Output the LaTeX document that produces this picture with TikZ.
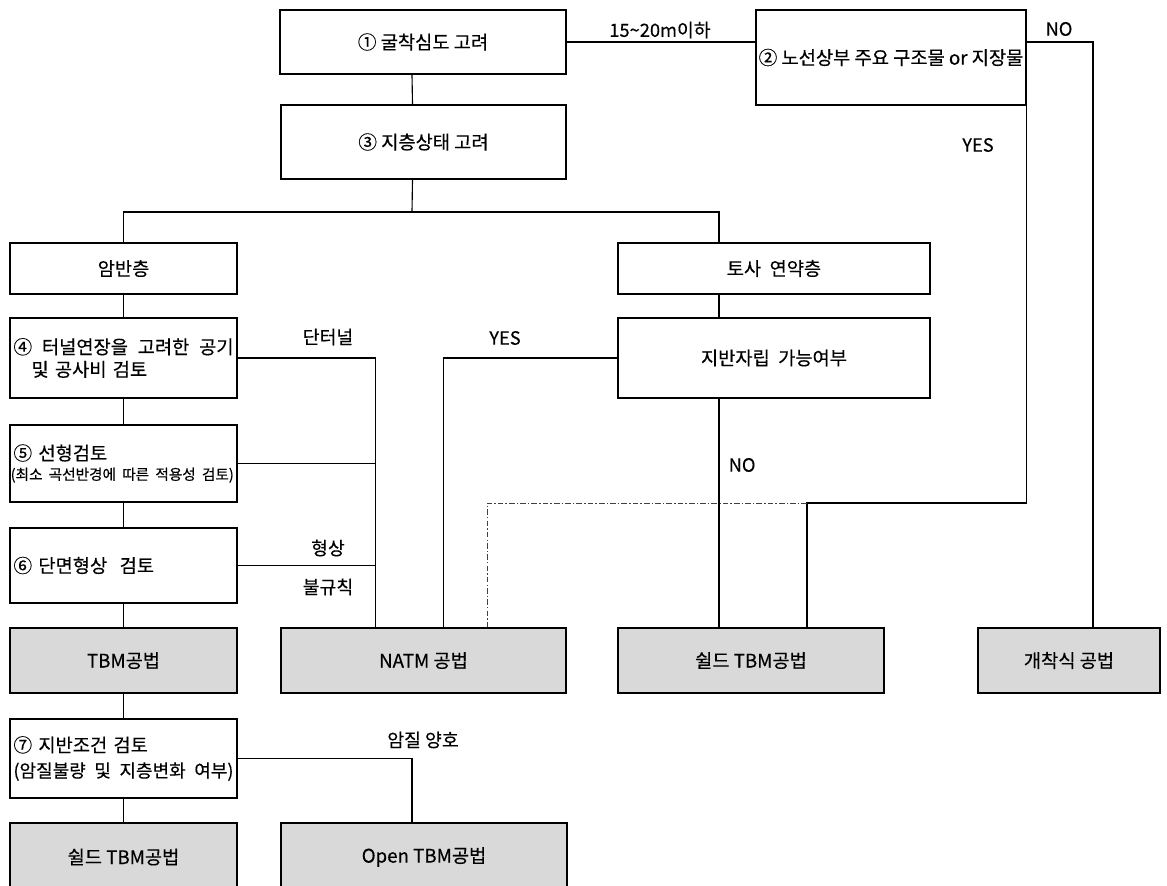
\documentclass[tikz,border=0pt]{standalone}
\usepackage{fontspec}
\setmainfont{Noto Sans CJK KR}[FakeBold=0.35]
\usetikzlibrary{positioning,calc}
\definecolor{hoesaek}{RGB}{217,217,217}
\tikzset{
  dangye/.style={draw,line width=0.8pt,fill=white,inner sep=2.5pt,align=center,
                 font=\fontsize{13.3}{21}\selectfont},
  jwadangye/.style={dangye,align=left,text width=5.5cm,minimum width=5.675cm},
  gongbeop/.style={dangye,fill=hoesaek},
  seon/.style={line width=0.8pt},
  jeomseon/.style={line width=0.6pt,draw=black!75,dash pattern=on 4pt off 1.5pt on 1pt off 1.5pt},
  pyoji/.style={font=\fontsize{13}{15}\selectfont,inner sep=1pt},
}

\begin{document}
\begin{tikzpicture}[x=0.025cm,y=-0.025cm]
  \useasboundingbox (0,0) rectangle (1167,886);
  % top
  \node[dangye,minimum width=7.15cm,minimum height=1.6cm] (gulchak) at (423,42) {① 굴착심도 고려};
  \node[dangye,minimum width=6.75cm,minimum height=2.375cm,inner sep=0pt] (noseon) at (891,57.5)
    {\raisebox{-0.15cm}{② 노선상부 주요 구조물 or 지장물}};
  \node[dangye,minimum width=7.125cm,minimum height=1.85cm] (jicheung) at (423.5,142) {③ 지층상태 고려};
  % layers
  \node[dangye,minimum width=5.675cm,minimum height=1.275cm] (amban) at (123.5,268.5) {암반층};
  \node[dangye,minimum width=7.8cm,minimum height=1.275cm] (tosa) at (774,268.5) {토사\ \ 연약층};
  \node[dangye,minimum width=7.8cm,minimum height=2cm] (jarip) at (774,358) {지반자립\ \ 가능여부};
  % left column checks
  \node[jwadangye,minimum height=2cm] (yeonjang) at (123.5,358)
    {④ \hfill 터널연장을 \hfill 고려한 \hfill 공기\\[-5pt]\hspace*{0.45cm}및 공사비 검토};
  \node[jwadangye,minimum height=1.925cm] (seonhyeong) at (123.5,463.5)
    {⑤ 선형검토\\[-7pt]\hspace*{-2pt}{\fontsize{10.4}{12}\selectfont\mbox{(최소 곡선반경에 따른 적용성 검토)}}};
  \node[jwadangye,minimum height=1.875cm] (danmyeon) at (123.5,565.5) {⑥ 단면형상\ \ 검토};
  % methods
  \node[gongbeop,minimum width=5.675cm,minimum height=1.625cm] (tbm) at (123.5,660.5) {TBM공법};
  \node[gongbeop,minimum width=7.125cm,minimum height=1.625cm] (natm) at (423.5,660.5) {NATM 공법};
  \node[gongbeop,minimum width=6.65cm,minimum height=1.625cm] (swild) at (751,660.5) {쉴드 TBM공법};
  \node[gongbeop,minimum width=4.55cm,minimum height=1.625cm] (gaechak) at (1069,660.5) {개착식 공법};
  \node[jwadangye,minimum height=1.975cm] (jiban) at (123.5,758.5)
    {⑦ 지반조건 검토\\[-3pt]{\fontsize{12.8}{14}\selectfont(암질불량 \hfill 및 \hfill 지층변화 \hfill 여부)}};
  \node[gongbeop,minimum width=5.675cm,minimum height=1.7cm] (swild2) at (123.5,857) {쉴드 TBM공법};
  \node[gongbeop,minimum width=7.15cm,minimum height=1.7cm] (open) at (424,857) {Open TBM공법};
  % junction points
  \coordinate (bungi) at (412,212);
  \coordinate (hapryu) at (807,503);
  \coordinate (danteo) at ([xshift=-1.19cm]natm.north);

  % connectors
  \draw[seon] ([xshift=-0.275cm]gulchak.south) -- ([xshift=-0.275cm]jicheung.north);
  \draw[seon] (gulchak.east) -- (gulchak.east -| noseon.west);
  \draw[seon] (gulchak.east -| noseon.east) -| ([xshift=0.6cm]gaechak.north);
  \draw[seon] (noseon.south east) |- (hapryu) -- (hapryu |- swild.north);
  \draw[jeomseon] (hapryu) -| ([xshift=1.59cm]natm.north);
  \draw[seon] ([xshift=-0.275cm]jicheung.south) -- (bungi);
  \draw[seon] (amban.north) |- (bungi) -| ([xshift=-1.375cm]tosa.north);
  \draw[seon] ([xshift=-1.375cm]tosa.south) -- ([xshift=-1.375cm]jarip.north);
  \draw[seon] ([xshift=-1.375cm]jarip.south) -- ([xshift=-1.375cm]jarip.south |- swild.north);
  \draw[seon] (jarip.west) -| ([xshift=0.49cm]natm.north);
  \draw[seon] (amban) -- (yeonjang);
  \draw[seon] (yeonjang) -- (seonhyeong);
  \draw[seon] (seonhyeong) -- (danmyeon);
  \draw[seon] (danmyeon) -- (tbm);
  \draw[seon] (tbm) -- (jiban);
  \draw[seon] (jiban) -- (swild2);
  \draw[seon] (yeonjang.east) -| (danteo);
  \draw[seon] (seonhyeong.east) -- (seonhyeong.east -| danteo);
  \draw[seon] (danmyeon.east) -- (danmyeon.east -| danteo);
  \draw[seon] (jiban.east) -| ([xshift=-0.3cm]open.north);

  % labels
  \node[pyoji] (l1) at (660,30) {15\textasciitilde20m이하};
  \node[pyoji] (l2) at (1059,29) {NO};
  \node[pyoji] (l3) at (978,145) {YES};
  \node[pyoji] (l4) at (505,338) {YES};
  \node[pyoji,anchor=west] (l5) at (727,465) {NO};
  \node[pyoji] (l6) at (328,337) {단터널};
  \node[pyoji] (l7) at (328,548) {형상};
  \node[pyoji] (l8) at (328,587) {불규칙};
  \node[pyoji] (l9) at (423,740) {암질 양호};
\end{tikzpicture}
\end{document}
